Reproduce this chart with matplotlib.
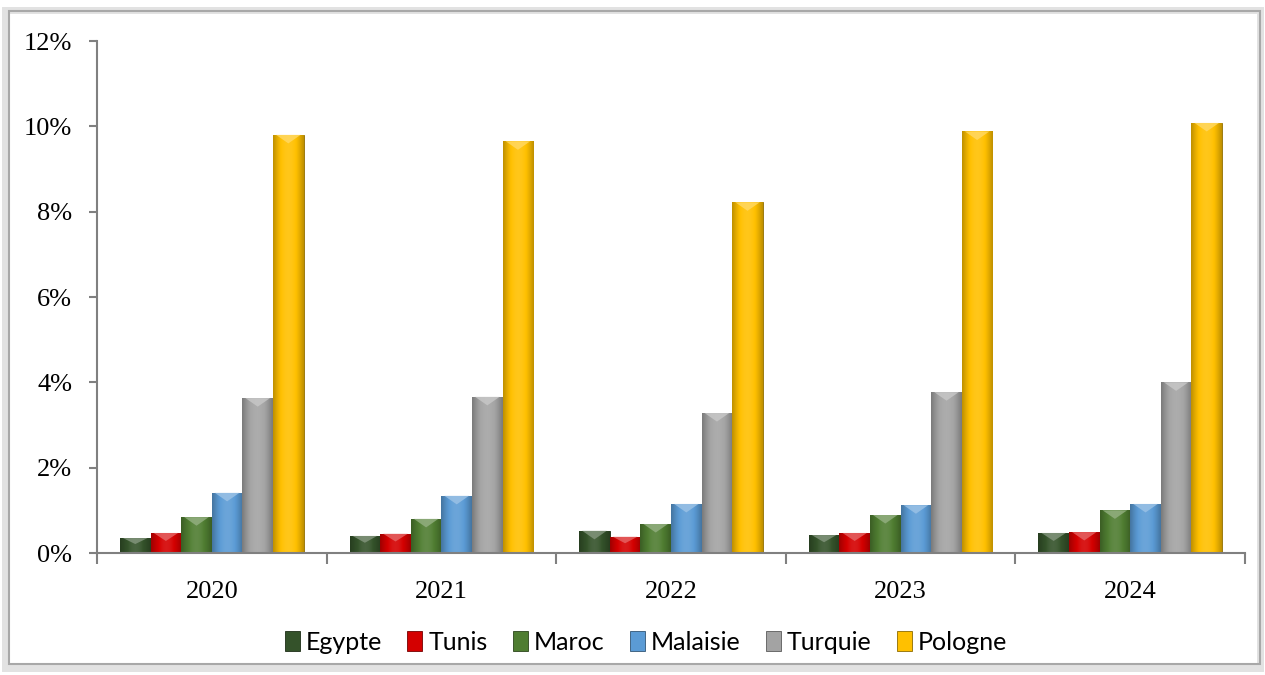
import matplotlib.pyplot as plt
import matplotlib.colors as mcolors
from matplotlib.patches import Rectangle
import numpy as np

# Data (share in %)
years = ['2020', '2021', '2022', '2023', '2024']
countries = ['Egypte', 'Tunis', 'Maroc', 'Malaisie', 'Turquie', 'Pologne']
egypte = [0.35, 0.40, 0.52, 0.42, 0.47]
tunis = [0.47, 0.45, 0.38, 0.47, 0.49]
maroc = [0.84, 0.80, 0.68, 0.89, 1.00]
malaisie = [1.41, 1.34, 1.15, 1.12, 1.15]
turquie = [3.63, 3.66, 3.28, 3.77, 4.00]
pologne = [9.80, 9.65, 8.22, 9.88, 10.08]
series = [egypte, tunis, maroc, malaisie, turquie, pologne]
colors = ['#34522a', '#d40000', '#4f7d31', '#5b9bd5', '#a3a3a3', '#ffc000']

plt.rcParams['font.family'] = ['Liberation Serif', 'DejaVu Serif']

W, H = 1265, 675
fig = plt.figure(figsize=(W / 100, H / 100), dpi=100)
ax = fig.add_axes([97 / W, 1 - 553 / H, (1245 - 97) / W, (553 - 41) / H])

# outer frame with a soft shadow on the left
fig.patches.append(Rectangle((5 / W, 1 - 668 / H), 1255 / W, 658 / H,
                             transform=fig.transFigure, fill=False,
                             edgecolor='#e2e2e2', lw=5, zorder=0))
fig.patches.append(Rectangle((9 / W, 1 - 664 / H), 1251 / W, 653 / H,
                             transform=fig.transFigure, fill=False,
                             edgecolor='#a8a8a8', lw=1.5, zorder=1))

n = len(countries)
width = 0.8 / n
x = np.arange(len(years))


def shade(c, f):
    rgb = np.array(mcolors.to_rgb(c))
    if f < 0:
        return tuple(rgb * (1 + f))
    return tuple(rgb + (1 - rgb) * f)


handles = []
for i, (name, vals, col) in enumerate(zip(countries, series, colors)):
    bars = ax.bar(x - 0.4 + (i + 0.5) * width, vals, width=width,
                  color=col, edgecolor=shade(col, -0.45), lw=0.6,
                  label=name, zorder=2)
    handles.append(bars)
    # horizontal gradient to fake the bevel look
    grad = np.linspace(0, 1, 64)
    prof = 0.35 * np.sin(np.pi * grad) - 0.25
    img = np.array([[shade(col, p) for p in prof]])
    for b in bars:
        bx, bw, bh = b.get_x(), b.get_width(), b.get_height()
        im = ax.imshow(img, extent=(bx, bx + bw, 0, bh), aspect='auto',
                       zorder=2.5, interpolation='bicubic')
        im.set_clip_path(b)
        # light triangle near the top
        ax.fill([bx + bw * 0.1, bx + bw * 0.9, bx + bw / 2],
                [bh, bh, bh - min(0.2, bh * 0.4)],
                color=shade(col, 0.4), alpha=0.8, zorder=2.6, lw=0)

ax.set_xlim(-0.5, len(years) - 0.5)
ax.set_ylim(0, 12)
ax.set_yticks(np.arange(0, 13, 2))
ax.set_yticklabels([f'{v}%' for v in range(0, 13, 2)], fontsize=19)
ax.set_xticks(x)
ax.set_xticklabels(years, fontsize=19)
ax.set_xticks(np.arange(-0.5, len(years)), minor=True)
ax.tick_params(axis='x', which='major', length=0, pad=20)
ax.tick_params(axis='x', which='minor', length=8, color='#808080', width=1.5)
ax.tick_params(axis='y', length=6, color='#808080', width=1.5, pad=12)
for s in ['top', 'right']:
    ax.spines[s].set_visible(False)
for s in ['left', 'bottom']:
    ax.spines[s].set_color('#808080')
    ax.spines[s].set_linewidth(1.5)

fig.legend(handles=handles, loc='center', bbox_to_anchor=(646 / W, 1 - 642 / H),
           ncol=n, frameon=False, prop={'family': 'Lato', 'size': 18},
           handlelength=0.6, handleheight=0.9, handletextpad=0.25,
           columnspacing=1.0)

fig.savefig('out.png', dpi=100)
